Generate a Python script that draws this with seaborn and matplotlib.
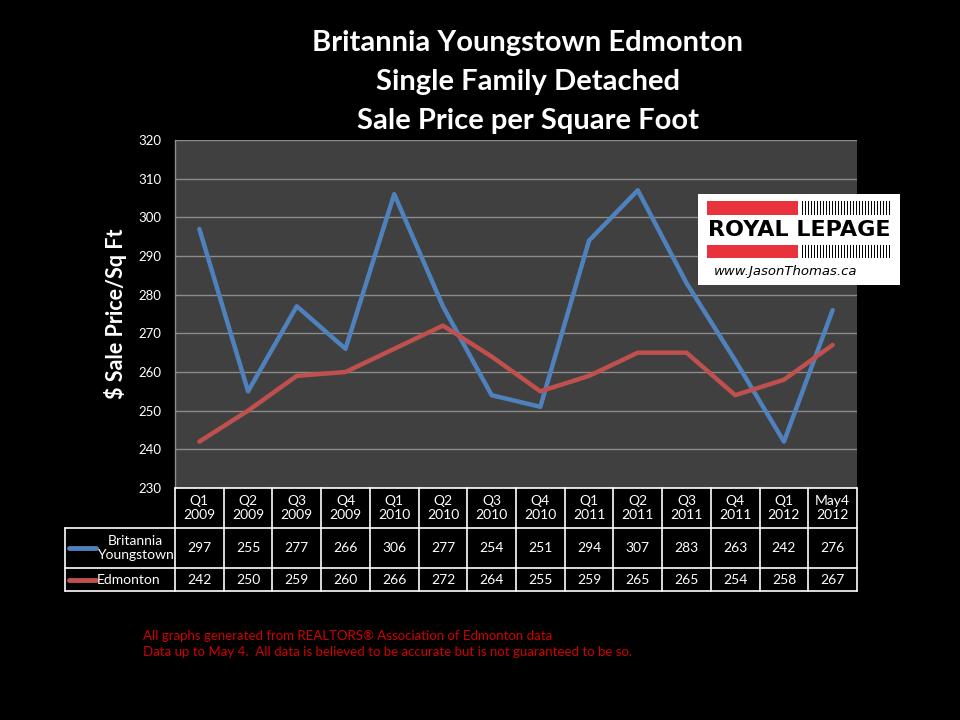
import matplotlib
matplotlib.use("Agg")
import matplotlib.pyplot as plt
import seaborn as sns
import pandas as pd
from matplotlib.patches import Rectangle

periods = ["Q1\n2009", "Q2\n2009", "Q3\n2009", "Q4\n2009", "Q1\n2010", "Q2\n2010",
           "Q3\n2010", "Q4\n2010", "Q1\n2011", "Q2\n2011", "Q3\n2011", "Q4\n2011",
           "Q1\n2012", "May4\n2012"]
britannia = [297, 255, 277, 266, 306, 277, 254, 251, 294, 307, 283, 263, 242, 276]
edmonton = [242, 250, 259, 260, 266, 272, 264, 255, 259, 265, 265, 254, 258, 267]
series_names = ["Britannia Youngstown", "Edmonton"]
series_labels = ["Britannia\nYoungstown", "Edmonton"]
colors = ["#4F81BD", "#C0504D"]
yticks = [230, 240, 250, 260, 270, 280, 290, 300, 310, 320]

sns.set_style("dark")
plt.rcParams["font.family"] = ["Lato", "DejaVu Sans"]

W, H = 960, 720
fig = plt.figure(figsize=(9.6, 7.2), dpi=100, facecolor="black")

L, R, T, B = 175, 857, 140, 488
ax = fig.add_axes([L / W, 1 - B / H, (R - L) / W, (B - T) / H])
ax.set_facecolor("#404040")

df = pd.DataFrame({
    "idx": list(range(len(periods))) * 2,
    "value": britannia + edmonton,
    "series": [series_names[0]] * len(periods) + [series_names[1]] * len(periods),
})
sns.lineplot(data=df, x="idx", y="value", hue="series", palette=colors,
             linewidth=3.2, ax=ax, legend=False, solid_capstyle="round")

ax.set_xlim(-0.5, len(periods) - 0.5)
ax.set_ylim(230, 320)
ax.set_yticks(yticks)
ax.set_yticklabels([str(v) for v in yticks], color="white", fontsize=9.5)
ax.set_xticks([])
ax.set_xlabel("")
ax.set_ylabel("$ Sale Price/Sq Ft", color="white", fontsize=15.5, fontweight="bold", labelpad=8)
ax.tick_params(axis="y", length=0, pad=10)
ax.grid(axis="y", color="#8c8c8c", linewidth=1)
ax.grid(axis="x", visible=False)
for s in ["top", "right", "bottom"]:
    ax.spines[s].set_visible(False)
ax.spines["left"].set_color("#8c8c8c")
ax.spines["left"].set_linewidth(1)

# Titles
for i, t in enumerate(["Britannia Youngstown Edmonton", "Single Family Detached",
                       "Sale Price per Square Foot"]):
    fig.text(528 / W, 1 - (43 + i * 39) / H, t, color="white", fontsize=21,
             fontweight="bold", ha="center", va="center")

# Data table
TL = 65
tb = fig.add_axes([0, 0, 1, 1])
tb.set_xlim(0, W)
tb.set_ylim(H, 0)
tb.axis("off")
tb.patch.set_alpha(0)
y0, y1, y2, y3 = 488, 528, 568, 591
n = len(periods)
cw = (R - L) / n
lc = "white"
lw = 1.2
tb.plot([L, R], [y0, y0], color=lc, lw=lw)
for yy in (y1, y2, y3):
    tb.plot([TL, R], [yy, yy], color=lc, lw=lw)
tb.plot([TL, TL], [y1, y3], color=lc, lw=lw)
for i in range(n + 1):
    xx = L + i * cw
    tb.plot([xx, xx], [y0, y3], color=lc, lw=lw)
for i, p in enumerate(periods):
    cx = L + (i + 0.5) * cw
    tb.text(cx, (y0 + y1) / 2, p, color="white", fontsize=10, ha="center", va="center",
            linespacing=1.25)
    tb.text(cx, (y1 + y2) / 2, str(britannia[i]), color="white", fontsize=10,
            ha="center", va="center")
    tb.text(cx, (y2 + y3) / 2, str(edmonton[i]), color="white", fontsize=10,
            ha="center", va="center")
rows_y = [(y1 + y2) / 2, (y2 + y3) / 2]
for k in range(2):
    tb.plot([69, 96], [rows_y[k], rows_y[k]], color=colors[k], lw=3.5,
            solid_capstyle="round")
tb.text(135, rows_y[0], series_labels[0], color="white", fontsize=10, ha="center",
        va="center", linespacing=1.25)
tb.text(97, rows_y[1], series_labels[1], color="white", fontsize=10, ha="left",
        va="center")

# Logo
tb.add_patch(Rectangle((698, 194), 202, 91, facecolor="white", edgecolor="none"))
tb.add_patch(Rectangle((707, 201), 91, 14, facecolor="#E8323C", edgecolor="none"))
tb.add_patch(Rectangle((707, 245), 91, 13, facecolor="#E8323C", edgecolor="none"))
for j in range(30):
    xs = 802 + j * 3.0
    tb.add_patch(Rectangle((xs, 201), 1.3, 14, facecolor="black", edgecolor="none"))
    tb.add_patch(Rectangle((xs, 245), 1.3, 13, facecolor="black", edgecolor="none"))
tb.text(799, 230, "ROYAL LEPAGE", color="black", fontsize=16, fontweight="bold",
        ha="center", va="center", family=["DejaVu Sans"])
tb.text(786, 272, "www.JasonThomas.ca", color="black", fontsize=9.5, style="italic",
        ha="center", va="center", family=["DejaVu Sans"])

# Footer
fig.text(143 / W, 1 - 636 / H, "All graphs generated from REALTORS\u00ae Association of Edmonton data",
         color="#D00000", fontsize=9.5, ha="left", va="center")
fig.text(143 / W, 1 - 652 / H,
         "Data up to May 4.  All data is believed to be accurate but is not guaranteed to be so.",
         color="#D00000", fontsize=9.5, ha="left", va="center")

fig.savefig("out.png", dpi=100, facecolor="black")
